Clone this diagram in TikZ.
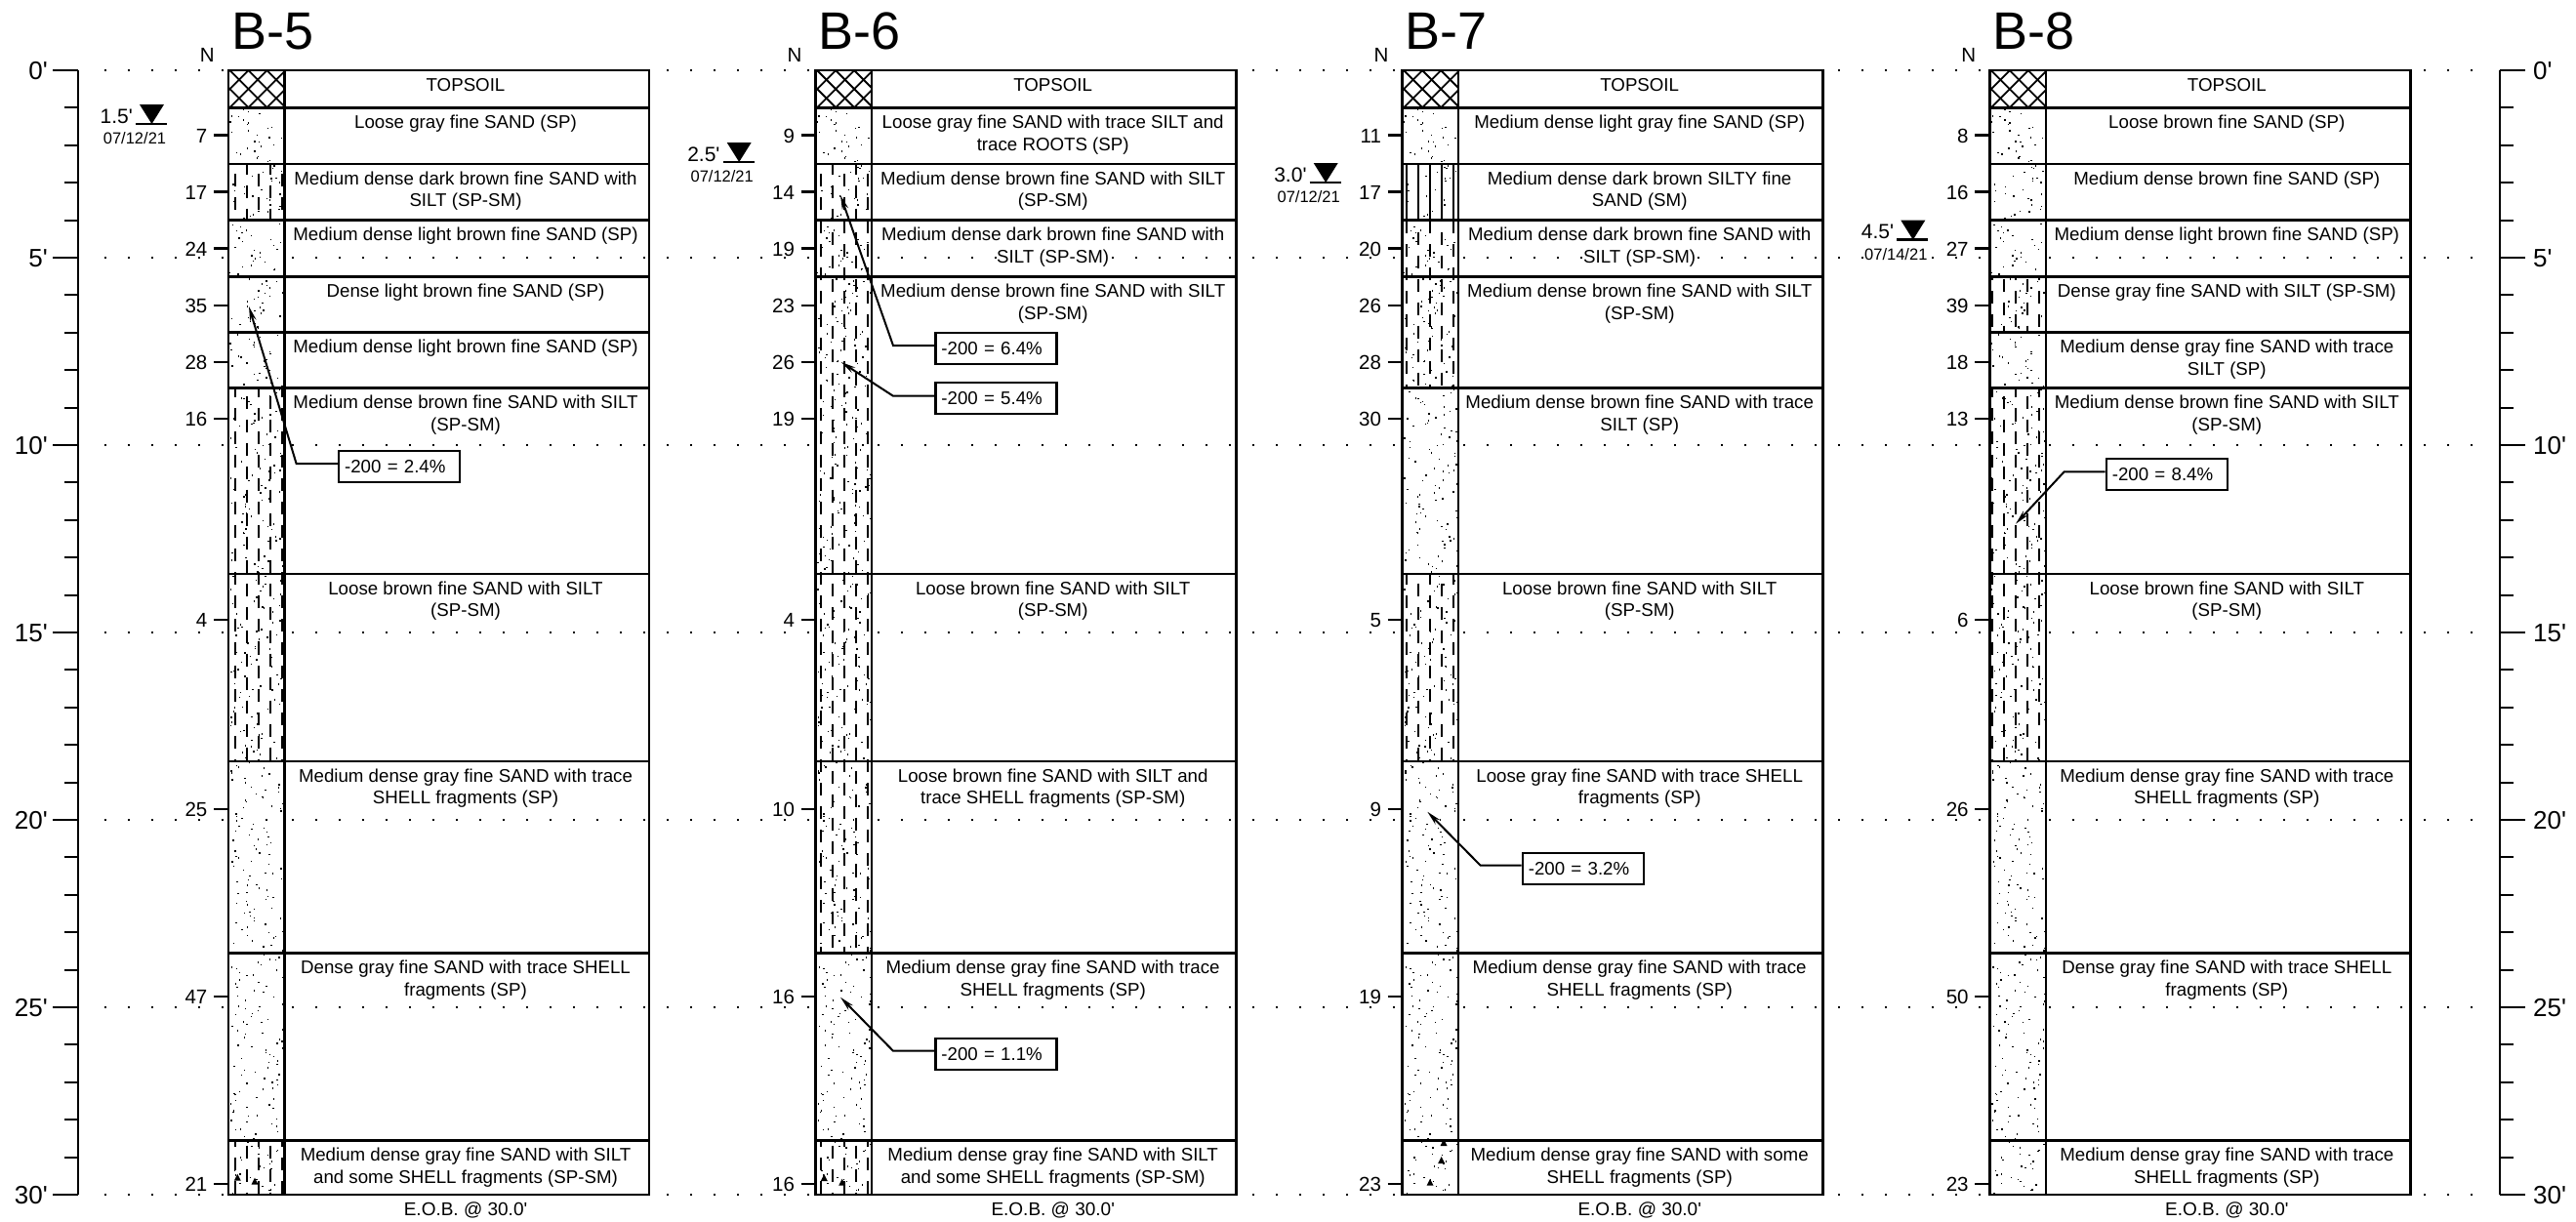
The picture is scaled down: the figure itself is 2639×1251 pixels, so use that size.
\documentclass[tikz,border=0pt]{standalone}
\usepackage{fontspec}
\setmainfont{Liberation Sans}
\newfontfamily\arl{Liberation Sans}
\usetikzlibrary{arrows.meta}
\newcommand{\fsz}[1]{\arl\fontsize{#1}{#1}\selectfont}
\tikzset{
  desc/.style={anchor=base,font=\fsz{18.7},fill=white,inner sep=0pt},
  nval/.style={anchor=base east,font=\fsz{20.5},inner sep=0pt},
  depthl/.style={anchor=base east,font=\fsz{26},inner sep=0pt},
  depthr/.style={anchor=base west,font=\fsz{26},inner sep=0pt},
  titlel/.style={anchor=base west,font=\fsz{54},inner sep=0pt},
  eob/.style={anchor=base,font=\fsz{19},inner sep=0pt},
  wlev/.style={anchor=base east,font=\fsz{21},inner sep=0pt},
  wdate/.style={anchor=base,font=\fsz{16.5},fill=white,inner sep=0pt},
  griddots/.style={line width=1.6pt,dash pattern=on 1.6pt off 22.4pt},
  frameline/.style={line width=2.5pt,line cap=rect},
  rowline/.style={line width=2.2pt},
  majtick/.style={line width=2.5pt},
  mintick/.style={line width=2pt},
  silthatch/.style={line width=1.8pt},
  crossh/.style={line width=1.8pt},
  callbox/.style={draw,line width=2.2pt,fill=white,anchor=north west,minimum width=124pt,minimum height=31.7pt,inner xsep=6pt,inner ysep=0pt,text width=112pt,align=left,font=\fsz{18.7}},
  leader/.style={line width=2pt,-{Stealth[length=15pt,width=6.5pt]}},
}
% soil patterns
\newcommand{\DotsIn}[2]{%
  \pgfmathtruncatemacro\sd{#1*7+3}\pgfmathsetseed{\sd}%
  \pgfmathtruncatemacro\nd{(#2-#1)*0.5}%
  \foreach \i in {1,...,\nd}{%
    \pgfmathsetmacro\px{\cx+1+55*rnd}\pgfmathsetmacro\py{#1+(\i-rnd)*2}%
    \fill (\px,\py) rectangle ++(1.4,1.4);}%
}
\newcommand{\Sand}[2]{\begin{scope}\clip (\cx,#1) rectangle (\cx+57.5,#2);\DotsIn{#1}{#2}\end{scope}}
\newcommand{\Silt}[2]{\begin{scope}\clip (\cx,#1) rectangle (\cx+57.5,#2);
  \DotsIn{#1}{#2}%
  \pgfmathtruncatemacro\kz{ceil((\cx-0.7)/12)}\pgfmathtruncatemacro\ke{\kz+4}%
  \foreach \k in {\kz,...,\ke}{%
    \pgfmathsetmacro\hx{12*\k+0.7}%
    \pgfmathsetmacro\ph{mod(\k,2)<0.5 ? 10 : 21.7}%
    \pgfmathsetmacro\ys{floor((#1-\ph)/24)*24+\ph}%
    \draw[silthatch,dash pattern=on 13pt off 11pt] (\hx,\ys) -- (\hx,#2);}%
  \end{scope}}
\newcommand{\SMlay}[2]{\begin{scope}\clip (\cx,#1) rectangle (\cx+57.5,#2);
  \DotsIn{#1}{#2}%
  \pgfmathtruncatemacro\kz{ceil((\cx-0.7)/12)}\pgfmathtruncatemacro\ke{\kz+4}%
  \foreach \k in {\kz,...,\ke}{%
    \pgfmathsetmacro\hx{12*\k+0.7}%
    \draw[silthatch] (\hx,#1) -- (\hx,#2);}%
  \end{scope}}
\newcommand{\Topsoil}{\begin{scope}\clip (\cx,72) rectangle (\cx+57.5,110.5);
  \foreach \k in {-5,...,8}{%
    \draw[crossh] (\cx+11+19*\k-40,81.7-40) -- (\cx+11+19*\k+60,81.7+60);
    \draw[crossh] (\cx+11+19*\k+40,81.7-40) -- (\cx+11+19*\k-60,81.7+60);}%
  \end{scope}}
\newcommand{\Shell}[2]{\fill (#1-3.5,#2+3) -- (#1+3.5,#2+3) -- (#1,#2-4) -- cycle;}
% description text: name, top y, line 1, line 2
\newcommand{\Desc}[4]{%
  \node[desc] (\bn d#1a) at (\cx+243,#2+21) {#3};
  \ifx&#4&\else\node[desc] (\bn d#1b) at (\cx+243,#2+43.5) {#4};\fi}
\newcommand{\Boring}[5]{% title, rows list, N list, water depth label, line y
  \node[titlel] (\bn title) at (\cx+3,50) {#1};
  \node[nval] (\bn N) at (\cx-14,63) {N};
  \foreach \y in {#2}{\draw[rowline] (\cx,\y) -- (\cx+431,\y);}
  \draw[rowline] (\cx+57.5,72) -- (\cx+57.5,1224);
  \draw[frameline] (\cx,72) rectangle (\cx+431,1224);
  \foreach \v/\y [count=\i] in {#3}{%
    \node[nval] (\bn n\i) at (\cx-21.5,\y+7.5) {\v};
    \draw[majtick] (\cx-15,\y) -- (\cx,\y);}
  \node[wlev] (\bn wl) at (\cx-98,#5-1) {#4};
  \fill (\cx-91,#5-20) -- (\cx-66,#5-20) -- (\cx-78.5,#5) -- cycle;
  \draw[majtick] (\cx-95,#5) -- (\cx-63,#5);
  \node[eob] (\bn eob) at (\cx+243,1245) {E.O.B. @ 30.0'};
}
\newcommand{\Callout}[8]{% name, box x, box y, text, elbow x, elbow y, tip x, tip y
  \node[callbox] (#1) at (#2,#3) {#4};
  \coordinate (#1e) at (#5,#6);
  \coordinate (#1t) at (#7,#8);
  \draw[leader] (#1.west |- #1e) -- (#1e) -- (#1t);
}
\begin{document}
\begin{tikzpicture}[x=1pt,y=-1pt]
\useasboundingbox (0,0) rectangle (2639,1251);
\fill[white] (0,0) rectangle (2639,1251);
% dotted depth lines
\foreach \k in {0,...,6}{\draw[griddots] (107.2,72+192*\k) -- (2534,72+192*\k);}
% depth scales
\draw[majtick] (80,72) -- (80,1224);
\draw[majtick] (2561,72) -- (2561,1224);
\foreach \k in {1,...,29}{%
  \draw[mintick] (66,72+38.4*\k) -- (80,72+38.4*\k);
  \draw[mintick] (2561,72+38.4*\k) -- (2575,72+38.4*\k);}
\foreach \k [evaluate=\k as \dd using int(5*\k)] in {0,...,6}{%
  \draw[majtick] (54,72+192*\k) -- (80,72+192*\k);
  \draw[majtick] (2561,72+192*\k) -- (2587,72+192*\k);
  \node[depthl] (dl\k) at (49,72+192*\k+9) {\dd'};
  \node[depthr] (dr\k) at (2595,72+192*\k+9) {\dd'};}
% ---------- B-5
\def\cx{234}\def\bn{bfive}
\fill[white] (\cx,72) rectangle (\cx+57.5,1224);
\Topsoil
\Sand{110.5}{168}\Silt{168}{225.5}\Sand{225.5}{283.5}\Sand{283.5}{340.5}\Sand{340.5}{397.5}
\Silt{397.5}{588}\Silt{588}{780}\Sand{780}{976.5}\Sand{976.5}{1168.5}\Silt{1168.5}{1224}
\Shell{243.3}{1206.7}\Shell{261}{1210.7}
\Desc{1}{72}{TOPSOIL}{}
\Desc{2}{110.5}{Loose gray fine SAND (SP)}{}
\Desc{3}{168}{Medium dense dark brown fine SAND with}{SILT (SP-SM)}
\Desc{4}{225.5}{Medium dense light brown fine SAND (SP)}{}
\Desc{5}{283.5}{Dense light brown fine SAND (SP)}{}
\Desc{6}{340.5}{Medium dense light brown fine SAND (SP)}{}
\Desc{7}{397.5}{Medium dense brown fine SAND with SILT}{(SP-SM)}
\Desc{8}{588}{Loose brown fine SAND with SILT}{(SP-SM)}
\Desc{9}{780}{Medium dense gray fine SAND with trace}{SHELL fragments (SP)}
\Desc{10}{976.5}{Dense gray fine SAND with trace SHELL}{fragments (SP)}
\Desc{11}{1168.5}{Medium dense gray fine SAND with SILT}{and some SHELL fragments (SP-SM)}
\Boring{B-5}{110.5,168,225.5,283.5,340.5,397.5,588,780,976.5,1168.5}{7/138.5,17/196.5,24/254.5,35/313,28/371,16/429,4/635,25/829,47/1021,21/1213}{1.5'}{127}
\node[wdate] (\bn wd) at (\cx-96,147) {07/12/21};
\Callout{cfive}{346}{461}{-200 = 2.4\%}{303.6}{475}{255}{314}
% ---------- B-6
\def\cx{835.7}\def\bn{bsix}
\fill[white] (\cx,72) rectangle (\cx+57.5,1224);
\Topsoil
\Sand{110.5}{168}\Silt{168}{225.5}\Silt{225.5}{283.5}\Silt{283.5}{588}
\Silt{588}{780}\Silt{780}{976.5}\Sand{976.5}{1168.5}\Silt{1168.5}{1224}
\Shell{844.3}{1207}\Shell{862.7}{1211.7}
\Desc{1}{72}{TOPSOIL}{}
\Desc{2}{110.5}{Loose gray fine SAND with trace SILT and}{trace ROOTS (SP)}
\Desc{3}{168}{Medium dense brown fine SAND with SILT}{(SP-SM)}
\Desc{4}{225.5}{Medium dense dark brown fine SAND with}{SILT (SP-SM)}
\Desc{5}{283.5}{Medium dense brown fine SAND with SILT}{(SP-SM)}
\Desc{6}{588}{Loose brown fine SAND with SILT}{(SP-SM)}
\Desc{7}{780}{Loose brown fine SAND with SILT and}{trace SHELL fragments (SP-SM)}
\Desc{8}{976.5}{Medium dense gray fine SAND with trace}{SHELL fragments (SP)}
\Desc{9}{1168.5}{Medium dense gray fine SAND with SILT}{and some SHELL fragments (SP-SM)}
\Boring{B-6}{110.5,168,225.5,283.5,588,780,976.5,1168.5}{9/138.5,14/196.5,19/254.5,23/313,26/371,19/429,4/635,10/829,16/1021,16/1213}{2.5'}{166}
\node[wdate] (\bn wd) at (\cx-96,186) {07/12/21};
\Callout{csixa}{957.3}{340}{-200 = 6.4\%}{915}{354}{861}{200}
\Callout{csixb}{957.3}{391}{-200 = 5.4\%}{915}{405.7}{861.7}{371}
\Callout{csixc}{957.3}{1063}{-200 = 1.1\%}{915}{1076.7}{861}{1021.7}
% ---------- B-7
\def\cx{1436.7}\def\bn{bseven}
\fill[white] (\cx,72) rectangle (\cx+57.5,1224);
\Topsoil
\Sand{110.5}{168}\SMlay{168}{225.5}\Silt{225.5}{283.5}\Silt{283.5}{397.5}\Sand{397.5}{588}
\Silt{588}{780}\Sand{780}{976.5}\Sand{976.5}{1168.5}\Sand{1168.5}{1224}
\Shell{1465}{1211.7}\Shell{1476.7}{1189}\Shell{1479}{1171}
\Desc{1}{72}{TOPSOIL}{}
\Desc{2}{110.5}{Medium dense light gray fine SAND (SP)}{}
\Desc{3}{168}{Medium dense dark brown SILTY fine}{SAND (SM)}
\Desc{4}{225.5}{Medium dense dark brown fine SAND with}{SILT (SP-SM)}
\Desc{5}{283.5}{Medium dense brown fine SAND with SILT}{(SP-SM)}
\Desc{6}{397.5}{Medium dense brown fine SAND with trace}{SILT (SP)}
\Desc{7}{588}{Loose brown fine SAND with SILT}{(SP-SM)}
\Desc{8}{780}{Loose gray fine SAND with trace SHELL}{fragments (SP)}
\Desc{9}{976.5}{Medium dense gray fine SAND with trace}{SHELL fragments (SP)}
\Desc{10}{1168.5}{Medium dense gray fine SAND with some}{SHELL fragments (SP)}
\Boring{B-7}{110.5,168,225.5,283.5,397.5,588,780,976.5,1168.5}{11/138.5,17/196.5,20/254.5,26/313,28/371,30/429,5/635,9/829,19/1021,23/1213}{3.0'}{187}
\node[wdate] (\bn wd) at (\cx-96,207) {07/12/21};
\Callout{cseven}{1558.7}{873}{-200 = 3.2\%}{1516.7}{886.7}{1462.3}{831.7}
% ---------- B-8
\def\cx{2038.3}\def\bn{beight}
\fill[white] (\cx,72) rectangle (\cx+57.5,1224);
\Topsoil
\Sand{110.5}{168}\Sand{168}{225.5}\Sand{225.5}{283.5}\Silt{283.5}{340.5}\Sand{340.5}{397.5}
\Silt{397.5}{588}\Silt{588}{780}\Sand{780}{976.5}\Sand{976.5}{1168.5}\Sand{1168.5}{1224}
\Desc{1}{72}{TOPSOIL}{}
\Desc{2}{110.5}{Loose brown fine SAND (SP)}{}
\Desc{3}{168}{Medium dense brown fine SAND (SP)}{}
\Desc{4}{225.5}{Medium dense light brown fine SAND (SP)}{}
\Desc{5}{283.5}{Dense gray fine SAND with SILT (SP-SM)}{}
\Desc{6}{340.5}{Medium dense gray fine SAND with trace}{SILT (SP)}
\Desc{7}{397.5}{Medium dense brown fine SAND with SILT}{(SP-SM)}
\Desc{8}{588}{Loose brown fine SAND with SILT}{(SP-SM)}
\Desc{9}{780}{Medium dense gray fine SAND with trace}{SHELL fragments (SP)}
\Desc{10}{976.5}{Dense gray fine SAND with trace SHELL}{fragments (SP)}
\Desc{11}{1168.5}{Medium dense gray fine SAND with trace}{SHELL fragments (SP)}
\Boring{B-8}{110.5,168,225.5,283.5,340.5,397.5,588,780,976.5,1168.5}{8/138.5,16/196.5,27/254.5,39/313,18/371,13/429,6/635,26/829,50/1021,23/1213}{4.5'}{245.7}
\node[wdate] (\bn wd) at (\cx-96,266) {07/14/21};
\Callout{ceight}{2156.7}{469}{-200 = 8.4\%}{2114.7}{483.3}{2065}{536.7}
\end{tikzpicture}
\end{document}
